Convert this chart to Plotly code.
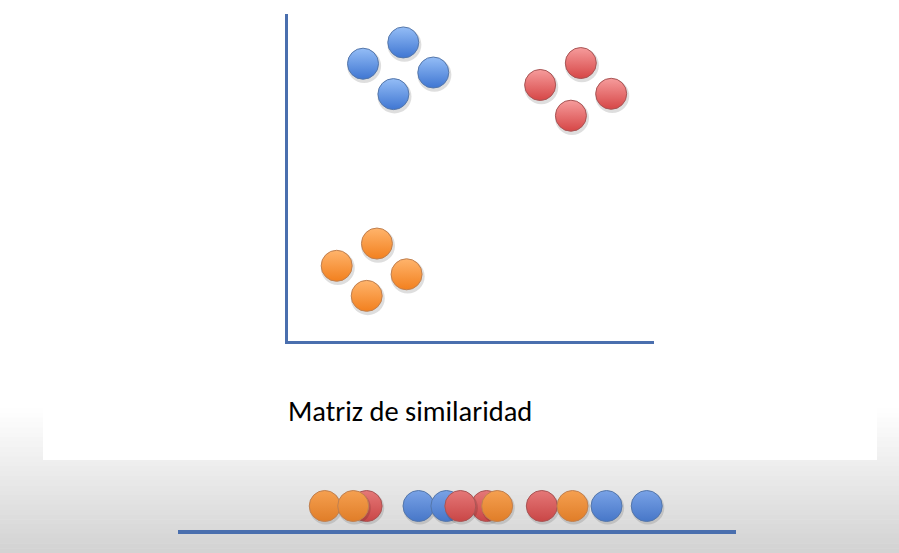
import plotly.graph_objects as go

W, H = 899, 553

# ---- data (top 2-D scatter, arbitrary units 0..10) ----
blue_x = [2.05, 3.15, 3.97, 2.88]
blue_y = [8.48, 9.13, 8.21, 7.55]
red_x = [6.89, 8.00, 8.83, 7.73]
red_y = [7.83, 8.50, 7.56, 6.89]
orange_x = [1.33, 2.43, 3.24, 2.15]
orange_y = [2.30, 2.98, 2.04, 1.38]

# ---- data (bottom 1-D projection, drawn in this order) ----
line_x = [2.63, 3.38, 3.14, 4.31, 4.81, 5.53, 5.06, 5.72, 6.52, 7.07, 7.68, 8.40]
line_group = ["orange", "red", "orange", "blue", "blue", "red", "red", "orange",
              "red", "orange", "blue", "blue"]

caption = "Matriz de similaridad"

# ---- styles ----
TOP = {"blue": "#94bdf6", "red": "#f69c9c", "orange": "#ffb46c"}
BOT = {"blue": "#3f76d2", "red": "#d64646", "orange": "#f2801e"}
EDGE = {"blue": "#5577aa", "red": "#a85555", "orange": "#c08050"}
B_TOP = {"blue": "#79a2e6", "red": "#e57878", "orange": "#f5a050"}
B_BOT = {"blue": "#4777c8", "red": "#c94646", "orange": "#e07d28"}
AXIS = "#4a6fae"


def px_x(p):
    return p / W


def px_y(p):
    return 1 - p / H


fig = go.Figure()

# shadows for the top clusters
for xs, ys in [(blue_x, blue_y), (red_x, red_y), (orange_x, orange_y)]:
    fig.add_trace(go.Scatter(
        x=[v + 0.03 for v in xs], y=[v - 0.07 for v in ys], mode="markers",
        marker=dict(size=34, color="rgba(0,0,0,0.13)", line=dict(width=0)),
        xaxis="x", yaxis="y", hoverinfo="skip", showlegend=False))

for name, xs, ys in [("blue", blue_x, blue_y), ("red", red_x, red_y),
                     ("orange", orange_x, orange_y)]:
    fig.add_trace(go.Scatter(
        x=xs, y=ys, mode="markers",
        marker=dict(size=31, color=TOP[name],
                    gradient=dict(type="vertical", color=BOT[name]),
                    line=dict(width=1, color=EDGE[name])),
        xaxis="x", yaxis="y", showlegend=False))

# bottom 1-D points, one trace per point to keep overlap order
for xv, g in zip(line_x, line_group):
    fig.add_trace(go.Scatter(
        x=[xv + 0.02], y=[0.46], mode="markers",
        marker=dict(size=33, color="rgba(0,0,0,0.12)", line=dict(width=0)),
        xaxis="x2", yaxis="y2", hoverinfo="skip", showlegend=False))
    fig.add_trace(go.Scatter(
        x=[xv], y=[0.5], mode="markers",
        marker=dict(size=31, color=B_TOP[g],
                    gradient=dict(type="vertical", color=B_BOT[g]),
                    line=dict(width=1, color=EDGE[g])),
        xaxis="x2", yaxis="y2", showlegend=False))

# background: gray gradient bands + white panel
shapes = []
y0, y1 = 408, H
n = 30
for i in range(n):
    a = y0 + (y1 - y0) * i / n
    b = y0 + (y1 - y0) * (i + 1) / n
    t = (i + 0.5) / n
    c = int(round(255 - t * (255 - 210)))
    shapes.append(dict(type="rect", xref="paper", yref="paper",
                       x0=0, x1=1, y0=px_y(b + 0.5), y1=px_y(a),
                       fillcolor=f"rgb({c},{c},{c})", line=dict(width=0),
                       layer="below"))
shapes.append(dict(type="rect", xref="paper", yref="paper",
                   x0=px_x(43), x1=px_x(877), y0=px_y(460), y1=1,
                   fillcolor="white", line=dict(width=0), layer="below"))

fig.update_layout(
    width=W, height=H,
    margin=dict(l=0, r=0, t=0, b=0),
    paper_bgcolor="white",
    plot_bgcolor="rgba(0,0,0,0)",
    showlegend=False,
    shapes=shapes,
    xaxis=dict(domain=[px_x(288), px_x(654)], range=[0, 10],
               showline=True, linecolor=AXIS, linewidth=3,
               showgrid=False, zeroline=False, showticklabels=False, ticks=""),
    yaxis=dict(domain=[px_y(341), px_y(14)], range=[0, 10],
               showline=True, linecolor=AXIS, linewidth=3,
               showgrid=False, zeroline=False, showticklabels=False, ticks=""),
    xaxis2=dict(domain=[px_x(178), px_x(736)], range=[0, 10], anchor="y2",
                showline=True, linecolor=AXIS, linewidth=4,
                showgrid=False, zeroline=False, showticklabels=False, ticks=""),
    yaxis2=dict(domain=[px_y(530), px_y(482)], range=[0, 1], anchor="x2",
                showline=False, showgrid=False, zeroline=False,
                showticklabels=False, ticks=""),
    annotations=[dict(text=caption, xref="paper", yref="paper",
                      x=px_x(286), y=px_y(411), xanchor="left", yanchor="middle",
                      showarrow=False,
                      font=dict(family="Calibri, Carlito, Lato, sans-serif",
                                size=28.5, color="black"))],
)

fig.write_html("out.html",
               config={"displayModeBar": False},
               post_script="document.body.style.margin='0';"
                           "document.body.style.overflow='hidden';")
